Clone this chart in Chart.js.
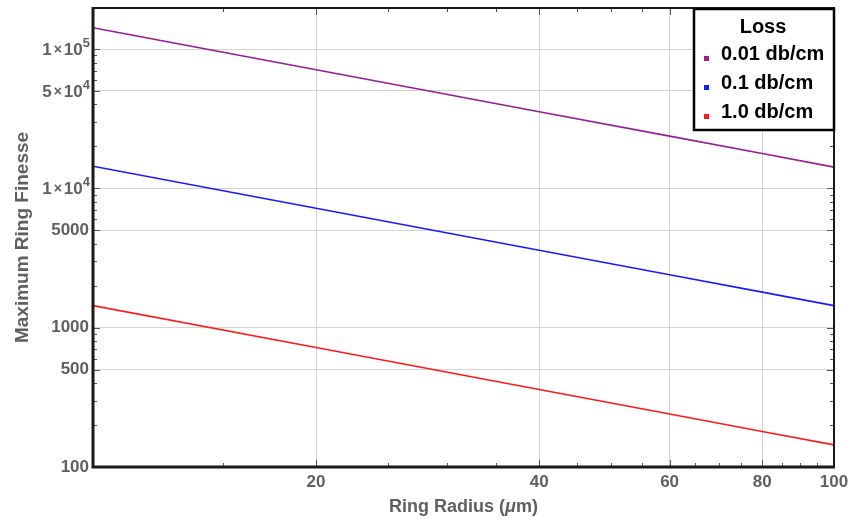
<!DOCTYPE html>
<html>
<head>
<meta charset="utf-8">
<script src="https://cdn.jsdelivr.net/npm/chart.js@4.4.1/dist/chart.umd.min.js"></script>
<style>
  html, body { margin: 0; padding: 0; background: #ffffff; }
  #wrap { width: 852px; height: 523px; position: relative; }
</style>
</head>
<body>
<div id="wrap"><canvas id="c" width="852" height="523"></canvas></div>
<script>
// ---- data ----
const radius   = [10, 20, 40, 60, 80, 100];                   // Ring radius (µm)
const loss001  = [142000, 71000, 35500, 23700, 17800, 14200]; // 0.01 db/cm
const loss01   = [14400, 7200, 3600, 2400, 1800, 1440];       // 0.1 db/cm
const loss1    = [1440, 720, 360, 240, 180, 144];             // 1.0 db/cm
const seriesNames = ['0.01 db/cm', '0.1 db/cm', '1.0 db/cm'];
const legendTitle = 'Loss';

const xMajorTicks = [20, 40, 60, 80, 100];
const xMajorLabels = ['20', '40', '60', '80', '100'];
const xMinorTicks = [15, 25, 30, 35, 45, 50, 55, 65, 70, 75, 85, 90, 95];
const yMajorTicks = [100, 500, 1000, 5000, 10000, 50000, 100000];
const yMajorLabels = ['100', '500', '1000', '5000', '', '', ''];
// exponent-form labels: [value, mantissa, exponent]
const yPowerLabels = [[10000, '1', '4'], [50000, '5', '4'], [100000, '1', '5']];
const yMinorTicks = [200, 300, 400, 600, 700, 800, 900, 2000, 3000, 4000, 6000, 7000, 8000, 9000,
                     20000, 30000, 40000, 60000, 70000, 80000, 90000];

const colors = ['#951d95', '#1a1aff', '#ff1a1a'];
const LABEL_GRAY = '#606060';
const FONT = '"Liberation Sans", Arial, sans-serif';

function pts(ys) { return radius.map((r, i) => ({ x: r, y: ys[i] })); }

const framePlugin = {
  id: 'frameAndExtras',
  afterDraw(chart) {
    const ctx = chart.ctx;
    const a = chart.chartArea;
    const xs = chart.scales.x, ys = chart.scales.y;
    ctx.save();
    // inward minor/major ticks
    ctx.strokeStyle = '#555555';
    ctx.lineWidth = 1;
    yMinorTicks.concat(yMajorTicks).forEach(v => {
      const p = Math.round(ys.getPixelForValue(v)) + 0.5;
      if (p < a.top || p > a.bottom) return;
      const len = yMajorTicks.includes(v) ? 7 : 4;
      ctx.beginPath(); ctx.moveTo(a.left, p); ctx.lineTo(a.left + len, p); ctx.stroke();
      ctx.beginPath(); ctx.moveTo(a.right, p); ctx.lineTo(a.right - len, p); ctx.stroke();
    });
    xMinorTicks.concat(xMajorTicks).forEach(v => {
      const p = Math.round(xs.getPixelForValue(v)) + 0.5;
      const len = xMajorTicks.includes(v) ? 7 : 4;
      ctx.beginPath(); ctx.moveTo(p, a.bottom); ctx.lineTo(p, a.bottom - len); ctx.stroke();
      ctx.beginPath(); ctx.moveTo(p, a.top); ctx.lineTo(p, a.top + len); ctx.stroke();
    });
    // frame
    ctx.strokeStyle = '#1a1a1a';
    ctx.lineWidth = 2;
    ctx.strokeRect(a.left, a.top, a.right - a.left, a.bottom - a.top);
    ctx.lineWidth = 3;
    ctx.beginPath();
    ctx.moveTo(a.left, a.top - 1); ctx.lineTo(a.left, a.bottom); ctx.lineTo(a.right + 1, a.bottom);
    ctx.stroke();

    // exponent-form y labels
    ctx.fillStyle = LABEL_GRAY;
    ctx.textBaseline = 'alphabetic';
    ctx.textAlign = 'right';
    yPowerLabels.forEach(([v, m, e]) => {
      const p = ys.getPixelForValue(v);
      const right = a.left - 3;
      const base = p + 6;
      ctx.font = 'bold 13px ' + FONT;
      const we = ctx.measureText(e).width;
      ctx.fillText(e, right, base - 8);
      ctx.font = 'bold 17px ' + FONT;
      const w10 = ctx.measureText('10').width;
      ctx.fillText('10', right - we, base);
      ctx.font = 'bold 14px ' + FONT;
      const wx = ctx.measureText('\u00D7').width;
      ctx.fillText('\u00D7', right - we - w10 - 2, base - 1);
      ctx.font = 'bold 17px ' + FONT;
      ctx.fillText(m, right - we - w10 - wx - 4, base);
    });

    // axis titles
    ctx.fillStyle = LABEL_GRAY;
    ctx.textBaseline = 'middle';
    const cx = (a.left + a.right) / 2;
    const ty = 507;
    const partA = 'Ring Radius (', partB = '\u03BC', partC = 'm)';
    ctx.font = 'bold 18px ' + FONT;
    const wA = ctx.measureText(partA).width, wC = ctx.measureText(partC).width;
    ctx.font = 'italic bold 18px ' + FONT;
    const wB = ctx.measureText(partB).width;
    let sx = cx - (wA + wB + wC) / 2;
    ctx.textAlign = 'left';
    ctx.font = 'bold 18px ' + FONT; ctx.fillText(partA, sx, ty); sx += wA;
    ctx.font = 'italic bold 18px ' + FONT; ctx.fillText(partB, sx, ty); sx += wB;
    ctx.font = 'bold 18px ' + FONT; ctx.fillText(partC, sx, ty);

    ctx.save();
    ctx.translate(23, (a.top + a.bottom) / 2);
    ctx.rotate(-Math.PI / 2);
    ctx.textAlign = 'center';
    ctx.font = 'bold 19px ' + FONT;
    ctx.fillText('Maximum Ring Finesse', 0, 0);
    ctx.restore();

    // legend box
    const lx = 694, ly = 9, lw = 140, lh = 121;
    ctx.fillStyle = '#ffffff';
    ctx.fillRect(lx, ly, lw, lh);
    ctx.strokeStyle = '#000000';
    ctx.lineWidth = 2.5;
    ctx.strokeRect(lx, ly, lw, lh);
    ctx.fillStyle = '#000000';
    ctx.font = 'bold 20px ' + FONT;
    ctx.textAlign = 'center';
    ctx.fillText(legendTitle, 763, 27);
    ctx.textAlign = 'left';
    const rows = [54, 83, 112];
    seriesNames.forEach((n, i) => {
      ctx.fillStyle = colors[i];
      ctx.fillRect(704, rows[i] + 2, 5, 5);
      ctx.fillStyle = '#000000';
      ctx.fillText(n, 721, rows[i]);
    });
    ctx.restore();
  }
};

new Chart(document.getElementById('c'), {
  type: 'line',
  data: {
    datasets: [
      { label: seriesNames[0], data: pts(loss001), borderColor: colors[0], borderWidth: 1.6, pointRadius: 0, fill: false, tension: 0 },
      { label: seriesNames[1], data: pts(loss01),  borderColor: colors[1], borderWidth: 1.6, pointRadius: 0, fill: false, tension: 0 },
      { label: seriesNames[2], data: pts(loss1),   borderColor: colors[2], borderWidth: 1.6, pointRadius: 0, fill: false, tension: 0 }
    ]
  },
  options: {
    responsive: false,
    animation: false,
    events: [],
    layout: { padding: { top: 8, right: 18, left: 0, bottom: 0 } },
    plugins: { legend: { display: false }, tooltip: { enabled: false } },
    scales: {
      x: {
        type: 'logarithmic',
        min: 10, max: 100,
        afterBuildTicks: s => { s.ticks = [10].concat(xMajorTicks).map(v => ({ value: v })); },
        afterFit: s => { s.height = 56; s.paddingLeft = 0; s.paddingRight = 0; },
        border: { display: false },
        grid: {
          drawTicks: false,
          color: c => (c.tick && xMajorTicks.includes(c.tick.value)) ? '#d4d4d4' : 'rgba(0,0,0,0)',
          lineWidth: 1
        },
        ticks: {
          autoSkip: false, maxRotation: 0, padding: 5,
          color: LABEL_GRAY,
          font: { family: FONT, size: 17, weight: 'bold' },
          callback: v => { const i = xMajorTicks.indexOf(v); return i >= 0 ? xMajorLabels[i] : ''; }
        }
      },
      y: {
        type: 'logarithmic',
        min: 100, max: 197000,
        afterBuildTicks: s => { s.ticks = yMajorTicks.map(v => ({ value: v })); },
        afterFit: s => { s.width = 93; s.paddingTop = 0; s.paddingBottom = 0; },
        border: { display: false },
        grid: {
          drawTicks: false,
          color: c => (c.tick && c.tick.value !== 100) ? '#d4d4d4' : 'rgba(0,0,0,0)',
          lineWidth: 1
        },
        ticks: {
          autoSkip: false, padding: 4,
          color: LABEL_GRAY,
          font: { family: FONT, size: 17, weight: 'bold' },
          callback: v => { const i = yMajorTicks.indexOf(v); return i >= 0 ? yMajorLabels[i] : ''; }
        }
      }
    }
  },
  plugins: [framePlugin]
});
</script>
</body>
</html>
